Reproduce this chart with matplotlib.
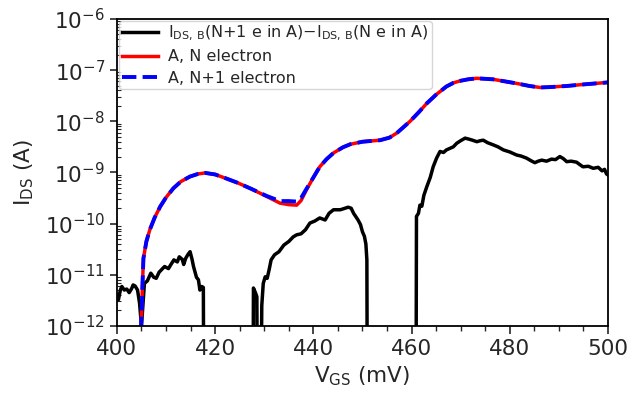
import numpy as np
import matplotlib
matplotlib.use("Agg")
import matplotlib.pyplot as plt

# -----------------------------
# data (log10 of current in A)
# -----------------------------
nan = np.nan

vgs_a = [404.9, 405.2, 405.4, 406.0, 406.7, 407.7, 408.8, 410.0, 411.5, 413.0,
         414.9, 416.5, 418.0, 420.0, 422.3, 424.5, 427.1, 430.5, 433.2, 435.0,
         436.6, 437.5, 438.6, 440.0, 441.3, 442.7, 444.1, 446.0, 447.5, 450.0,
         453.6, 455.5, 457.0, 458.3, 459.7, 461.5, 463.1, 465.0, 467.1, 468.5,
         469.9, 471.5, 473.3, 476.6, 479.0, 481.4, 484.0, 486.2, 488.5, 491.6,
         495.0, 500.0]

log_n = [-12.1, -11.2, -10.68, -10.35, -10.12, -9.88, -9.67, -9.49, -9.31, -9.18,
         -9.08, -9.03, -9.01, -9.04, -9.12, -9.20, -9.31, -9.47, -9.60, -9.63,
         -9.64, -9.55, -9.34, -9.10, -8.89, -8.74, -8.62, -8.51, -8.45, -8.40,
         -8.37, -8.32, -8.23, -8.12, -8.00, -7.82, -7.65, -7.48, -7.32, -7.25,
         -7.21, -7.18, -7.16, -7.18, -7.22, -7.26, -7.31, -7.34, -7.33, -7.31,
         -7.28, -7.24]

log_n1 = [-12.1, -11.2, -10.68, -10.35, -10.12, -9.88, -9.67, -9.49, -9.31, -9.18,
          -9.08, -9.03, -9.01, -9.04, -9.12, -9.20, -9.31, -9.46, -9.56, -9.56,
          -9.57, -9.50, -9.32, -9.10, -8.89, -8.74, -8.62, -8.51, -8.45, -8.40,
          -8.37, -8.32, -8.23, -8.12, -8.00, -7.82, -7.65, -7.48, -7.32, -7.25,
          -7.21, -7.18, -7.16, -7.18, -7.22, -7.26, -7.31, -7.34, -7.33, -7.31,
          -7.28, -7.24]

vgs_diff = [400.0, 400.3, 400.7, 401.0, 401.5, 402.0, 402.5, 403.0, 403.3, 403.7,
            404.2, 404.6, 405.0, 405.3, 405.6, 406.2, 406.9, 407.5, 408.0, 408.6,
            409.7, 410.5, 411.0, 411.6, 412.3, 412.7, 413.3, 413.6, 414.0, 414.5,
            414.9, 415.3, 415.6, 416.2, 416.6, 416.9, 417.3, 417.6, 417.7, 422.0,
            427.7, 427.8, 428.2, 428.5, 428.6, 429.0, 429.3, 429.5, 429.8, 430.2,
            430.6, 431.0, 431.4, 432.1, 433.0, 434.0, 435.0, 435.9, 436.6, 437.5,
            438.4, 439.3, 440.3, 441.3, 442.4, 443.2, 444.1, 445.5, 446.5, 447.1,
            447.7, 448.2, 449.1, 449.6, 450.0, 450.4, 450.7, 450.9, 451.0, 456.0,
            460.9, 461.0, 461.4, 461.7, 462.1, 462.5, 463.1, 463.8, 464.4, 465.1,
            465.8, 466.5, 467.1, 467.8, 468.5, 469.2, 470.0, 470.9, 471.7, 472.4,
            473.3, 474.0, 474.6, 475.5, 476.6, 477.6, 478.7, 480.0, 481.4, 482.3,
            483.4, 484.3, 485.1, 485.8, 486.5, 487.5, 488.5, 489.3, 490.2, 490.9,
            491.6, 492.5, 493.6, 494.3, 494.9, 496.0, 497.0, 498.0, 498.8, 499.3,
            499.7, 500.0]

log_diff = [-11.40, -11.49, -11.30, -11.23, -11.30, -11.28, -11.35, -11.27, -11.20, -11.22,
            -11.30, -11.55, -12.0, -11.6, -11.17, -11.12, -10.97, -11.05, -11.07, -10.95,
            -10.84, -10.88, -10.80, -10.71, -10.75, -10.65, -10.70, -10.80, -10.68, -10.60,
            -10.55, -10.70, -10.84, -11.05, -11.10, -11.30, -11.23, -11.25, -14.0, nan,
            -14.0, -11.26, -11.35, -11.43, -14.0, nan, -14.0, -11.60, -11.17, -11.04,
            -11.07, -10.90, -10.71, -10.61, -10.55, -10.42, -10.35, -10.26, -10.22, -10.20,
            -10.12, -9.99, -9.95, -9.89, -9.93, -9.80, -9.73, -9.73, -9.70, -9.68,
            -9.70, -9.80, -9.93, -10.02, -10.16, -10.25, -10.40, -10.71, -14.0, nan,
            -14.0, -9.86, -9.80, -9.64, -9.66, -9.45, -9.28, -9.10, -8.89, -8.72,
            -8.59, -8.61, -8.56, -8.53, -8.50, -8.43, -8.38, -8.33, -8.35, -8.37,
            -8.40, -8.38, -8.37, -8.42, -8.46, -8.50, -8.56, -8.60, -8.66, -8.68,
            -8.72, -8.77, -8.81, -8.78, -8.76, -8.78, -8.74, -8.75, -8.69, -8.73,
            -8.79, -8.78, -8.80, -8.85, -8.89, -8.88, -8.92, -8.90, -8.97, -8.94,
            -9.03, -9.05]

label_diff = r"I$_{\mathrm{DS,\,B}}$(N+1 e in A)$-$I$_{\mathrm{DS,\,B}}$(N e in A)"
label_n = "A, N electron"
label_n1 = "A, N+1 electron"

# -----------------------------
# plot
# -----------------------------
plt.rcParams["text.color"] = "0.15"
plt.rcParams["xtick.color"] = "0.15"
plt.rcParams["ytick.color"] = "0.15"
plt.rcParams["axes.labelcolor"] = "0.15"

fig, ax = plt.subplots(figsize=(6.32, 3.95), dpi=100)
fig.subplots_adjust(left=0.185, right=0.962, bottom=0.175, top=0.952)

ax.plot(vgs_diff, 10 ** np.array(log_diff), color="black", lw=2.5, label=label_diff)
ax.plot(vgs_a, 10 ** np.array(log_n), color="red", lw=2.5, label=label_n)
ax.plot(vgs_a, 10 ** np.array(log_n1), color="blue", lw=2.8, ls="--", label=label_n1)

ax.set_yscale("log")
ax.set_xlim(400, 500)
ax.set_ylim(1e-12, 1e-6)
ax.set_xticks([400, 420, 440, 460, 480, 500])
ax.set_xticks(np.arange(400, 501, 5), minor=True)

ax.set_xlabel(r"V$_{\mathrm{GS}}$ (mV)", fontsize=15.5)
ax.set_ylabel(r"I$_{\mathrm{DS}}$ (A)", fontsize=15.5, labelpad=6)

ax.tick_params(axis="x", which="major", direction="out", length=6, width=1.2, labelsize=15.5)
ax.tick_params(axis="x", which="minor", direction="out", length=3.5, width=1.0)
ax.tick_params(axis="y", which="major", direction="out", length=5, width=1.2, labelsize=15.5)
ax.tick_params(axis="y", which="minor", direction="in", length=3, width=0.8)

for s in ax.spines.values():
    s.set_linewidth(1.3)

ax.legend(loc="upper left", fontsize=11.5, borderaxespad=0.1, borderpad=0.2,
          labelspacing=0.4, handlelength=2.3, handletextpad=0.6)

plt.savefig("out.png", dpi=100)
